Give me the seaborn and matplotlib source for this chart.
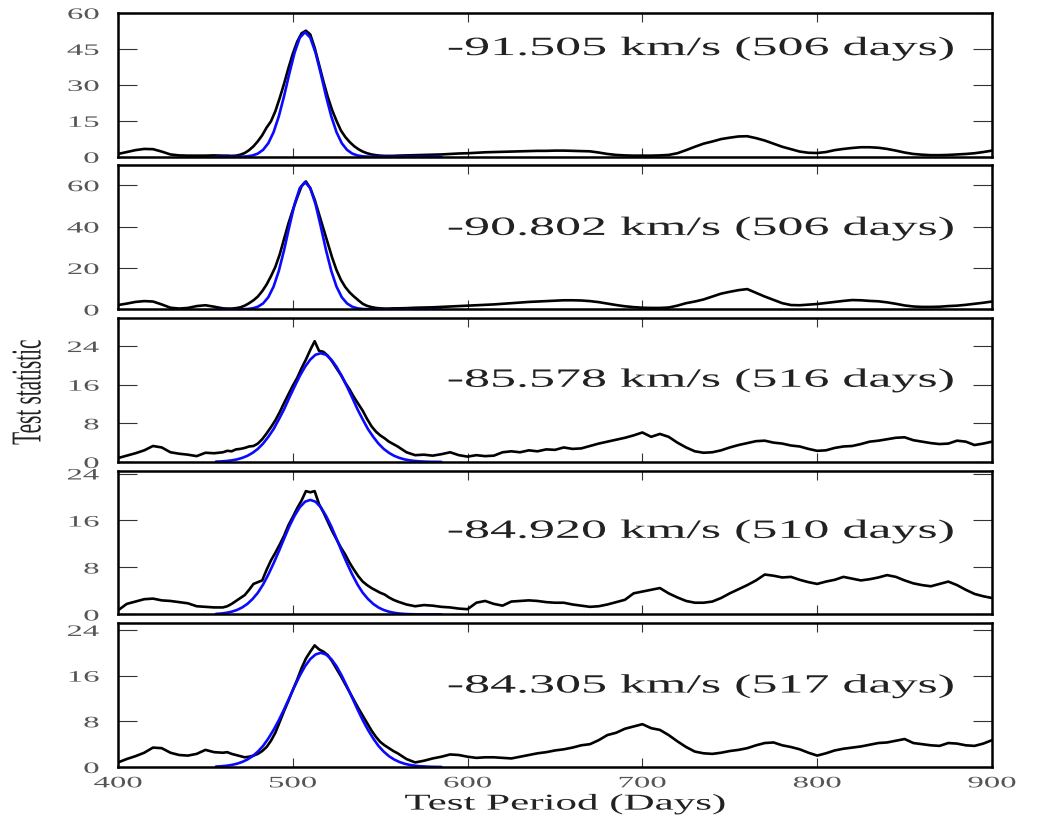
import numpy as np
import pandas as pd
import matplotlib
matplotlib.use("Agg")
import matplotlib.pyplot as plt
import matplotlib.patheffects as pe
from matplotlib.transforms import Affine2D
import seaborn as sns

# ---------------- data ----------------
# test periods (days) of the black curves: coarser away from the peak
period = np.concatenate([np.arange(400, 460, 5),
                         np.arange(460, 560, 2.5),
                         np.arange(560, 905, 5)])
fit_period = np.arange(456, 588, 3)      # test periods (days) of the blue fits

stat_91505 = [1.2, 2.0, 2.8, 3.3, 3.2, 2.2, 1.0, 0.6, 0.5, 0.5, 0.5, 0.6,
              0.5, 0.5, 0.4, 0.5, 0.9, 1.6, 2.8, 4.4, 6.5, 9.0,
              12.2, 14.8, 19.0, 24.5, 30.5, 37.0, 43.0, 48.0, 51.5, 52.6,
              51.0, 45.5, 38.5, 31.5, 25.0, 19.5, 15.0, 11.0, 8.3, 6.2,
              4.5, 3.2, 2.2, 1.5, 1.0, 0.7, 0.5, 0.4, 0.4, 0.4,
              0.5, 0.6, 0.7, 0.8, 0.9, 1.0, 1.2, 1.4,
              1.5, 1.7, 1.9, 2.0, 2.1, 2.2, 2.3, 2.4, 2.5, 2.5,
              2.6, 2.6, 2.5, 2.4, 2.3, 1.8, 1.2, 0.8, 0.6, 0.5,
              0.5, 0.5, 0.6, 0.8, 1.5, 2.8, 4.2, 5.5, 6.4, 7.4,
              8.0, 8.5, 8.6, 7.8, 6.8, 5.5, 4.2, 3.2, 2.2, 1.7,
              1.6, 2.0, 2.8, 3.3, 3.7, 4.0, 4.0, 3.8, 3.3, 2.6,
              1.8, 1.2, 0.9, 0.7, 0.7, 0.8, 1.0, 1.2, 1.5, 2.0,
              2.6]
stat_90802 = [2.1, 2.8, 3.6, 4.0, 3.8, 2.4, 0.8, 0.4, 0.7, 1.6, 2.0, 1.3,
              0.5, 0.4, 0.4, 0.6, 1.0, 1.8, 3.0, 4.4, 6.2, 8.8,
              12.0, 16.0, 20.5, 26.5, 34.0, 41.5, 48.0, 54.0, 59.5, 61.8,
              58.5, 53.0, 46.0, 39.0, 32.0, 25.0, 19.0, 14.3, 10.8, 8.2,
              6.2, 4.4, 2.7, 1.7, 1.1, 0.7, 0.5, 0.4, 0.4, 0.5,
              0.5, 0.6, 0.8, 0.9, 1.0, 1.2, 1.4, 1.6,
              1.8, 2.0, 2.2, 2.4, 2.7, 3.0, 3.3, 3.6, 3.8, 4.0,
              4.2, 4.4, 4.4, 4.3, 4.0, 3.5, 2.8, 2.1, 1.5, 1.1,
              0.8, 0.7, 0.7, 0.9, 1.8, 3.0, 3.8, 4.8, 6.2, 7.6,
              8.5, 9.3, 9.8, 8.0, 6.2, 4.6, 3.0, 2.1, 2.0, 2.3,
              2.6, 3.1, 3.6, 4.1, 4.5, 4.4, 4.1, 3.9, 3.4, 2.7,
              1.9, 1.4, 1.2, 1.2, 1.3, 1.6, 1.8, 2.2, 2.7, 3.2,
              3.8]
stat_85578 = [0.8, 1.3, 1.8, 2.4, 3.3, 3.0, 2.0, 1.7, 1.5, 1.2, 1.9, 1.8,
              2.0, 2.3, 2.2, 2.6, 2.7, 2.9, 3.2, 3.3, 3.8, 4.7,
              5.9, 7.2, 8.6, 10.3, 12.2, 14.0, 15.8, 17.4, 19.4, 21.2,
              23.2, 25.0, 23.0, 22.8, 22.0, 20.8, 19.4, 18.0, 16.4, 15.0,
              13.4, 12.0, 10.6, 8.9, 7.4, 6.3, 5.5, 4.9, 4.2, 3.7,
              3.2, 2.0, 1.4, 1.5, 1.3, 1.6, 2.0, 1.4,
              1.1, 1.4, 1.2, 1.3, 2.0, 2.2, 2.0, 2.4, 2.2, 2.6,
              2.5, 3.0, 2.7, 2.8, 3.3, 3.8, 4.2, 4.6, 5.0, 5.5,
              6.1, 5.2, 5.8, 5.2, 4.0, 3.0, 2.2, 1.9, 2.0, 2.4,
              3.0, 3.5, 3.9, 4.3, 4.4, 4.0, 3.8, 3.4, 3.2, 2.7,
              2.3, 2.4, 2.9, 3.2, 3.3, 3.7, 4.2, 4.4, 4.7, 5.0,
              5.1, 4.5, 4.2, 3.9, 3.7, 3.8, 4.4, 4.2, 3.5, 3.8,
              4.2]
stat_84920 = [0.7, 1.8, 2.2, 2.6, 2.7, 2.4, 2.3, 2.1, 1.9, 1.4, 1.3, 1.2,
              1.2, 1.4, 1.8, 2.3, 2.8, 3.3, 4.2, 5.2, 5.5, 5.8,
              7.6, 9.2, 10.5, 11.9, 13.4, 15.2, 16.6, 18.1, 19.4, 21.0,
              20.8, 21.0, 18.8, 17.4, 15.8, 14.2, 12.8, 11.4, 10.2, 8.8,
              7.6, 6.5, 5.6, 5.0, 4.5, 4.1, 3.7, 3.4, 2.9, 2.5,
              2.2, 1.7, 1.4, 1.6, 1.5, 1.3, 1.2, 1.0,
              0.9, 2.0, 2.3, 1.8, 1.5, 2.2, 2.3, 2.4, 2.3, 2.1,
              2.0, 2.0, 1.7, 1.5, 1.3, 1.4, 1.7, 2.1, 2.5, 3.6,
              3.9, 4.2, 4.5, 3.6, 2.9, 2.3, 2.0, 2.0, 2.2, 2.8,
              3.6, 4.3, 5.0, 5.8, 6.8, 6.6, 6.3, 6.4, 5.9, 5.5,
              5.2, 5.6, 5.9, 6.4, 6.1, 5.8, 6.0, 6.3, 6.7, 6.4,
              5.8, 5.3, 5.0, 4.8, 5.2, 5.6, 5.0, 4.2, 3.5, 3.1,
              2.8]
stat_84305 = [0.8, 1.4, 1.9, 2.5, 3.4, 3.3, 2.5, 2.1, 2.0, 2.3, 3.0, 2.6,
              2.5, 2.6, 2.3, 2.1, 1.9, 1.7, 1.8, 2.0, 2.3, 2.8,
              3.5, 4.6, 6.0, 7.9, 9.8, 11.6, 13.5, 15.3, 17.3, 19.0,
              20.2, 21.3, 20.6, 20.2, 19.6, 18.5, 17.2, 15.9, 14.5, 13.1,
              11.7, 10.3, 9.0, 7.7, 6.4, 5.3, 4.4, 3.8, 3.3, 2.8,
              2.4, 1.4, 0.8, 1.1, 1.5, 1.8, 2.2, 2.1,
              1.8, 1.6, 1.7, 1.7, 1.6, 1.5, 1.8, 2.1, 2.4, 2.6,
              2.9, 3.1, 3.4, 3.8, 4.0, 4.7, 5.6, 6.0, 6.7, 7.1,
              7.5, 6.8, 6.5, 5.6, 4.5, 3.5, 2.7, 2.4, 2.3, 2.5,
              2.8, 3.0, 3.3, 3.8, 4.2, 4.3, 3.8, 3.5, 3.1, 2.5,
              2.0, 2.4, 2.9, 3.2, 3.4, 3.6, 3.9, 4.2, 4.3, 4.6,
              4.9, 4.2, 4.0, 3.8, 3.7, 4.2, 4.1, 3.8, 3.7, 4.1,
              4.7]

fit_91505 = [0.0, 0.0, 0.0, 0.01, 0.03, 0.08, 0.22, 0.58, 1.36, 2.92,
             5.7, 10.3, 16.9, 25.3, 34.7, 43.4, 49.7, 52.0, 49.7, 43.4,
             34.7, 25.3, 16.9, 10.3, 5.7, 2.92, 1.36, 0.58, 0.22, 0.08,
             0.03, 0.01, 0.0, 0.0, 0.0, 0.0, 0.0, 0.0, 0.0, 0.0,
             0.0, 0.0, 0.0, 0.0]
fit_90802 = [0.0, 0.0, 0.0, 0.0, 0.02, 0.06, 0.19, 0.52, 1.28, 2.88,
             5.9, 11.0, 18.6, 28.6, 40.0, 50.8, 58.6, 61.5, 58.6, 50.8,
             40.0, 28.6, 18.6, 11.0, 5.9, 2.88, 1.28, 0.52, 0.19, 0.06,
             0.02, 0.0, 0.0, 0.0, 0.0, 0.0, 0.0, 0.0, 0.0, 0.0,
             0.0, 0.0, 0.0, 0.0]
fit_85578 = [0.06, 0.11, 0.19, 0.32, 0.52, 0.83, 1.26, 1.88, 2.7, 3.8,
             5.2, 6.8, 8.8, 10.9, 13.3, 15.6, 17.8, 19.7, 21.2, 22.2,
             22.5, 22.2, 21.2, 19.7, 17.8, 15.6, 13.3, 10.9, 8.8, 6.8,
             5.2, 3.8, 2.7, 1.88, 1.26, 0.83, 0.52, 0.32, 0.19, 0.11,
             0.06, 0.03, 0.02, 0.01]
fit_84920 = [0.09, 0.16, 0.28, 0.47, 0.76, 1.19, 1.8, 2.64, 3.7, 5.1,
             6.8, 8.7, 10.75, 12.9, 15.0, 16.8, 18.25, 19.2, 19.5, 19.2,
             18.25, 16.8, 15.0, 12.9, 10.75, 8.7, 6.8, 5.1, 3.7, 2.64,
             1.8, 1.19, 0.76, 0.47, 0.28, 0.16, 0.09, 0.05, 0.03, 0.01,
             0.0, 0.0, 0.0, 0.0]
fit_84305 = [0.08, 0.13, 0.22, 0.36, 0.57, 0.88, 1.31, 1.9, 2.7, 3.7,
             5.0, 6.5, 8.2, 10.1, 12.1, 14.1, 16.0, 17.65, 18.9, 19.7,
             20.0, 19.7, 18.9, 17.65, 16.0, 14.1, 12.1, 10.1, 8.2, 6.5,
             5.0, 3.7, 2.7, 1.9, 1.31, 0.88, 0.57, 0.36, 0.22, 0.13,
             0.08, 0.04, 0.02, 0.01]

panel_labels = ["-91.505 km/s (506 days)", "-90.802 km/s (506 days)",
                "-85.578 km/s (516 days)", "-84.920 km/s (510 days)",
                "-84.305 km/s (517 days)"]
stats = [stat_91505, stat_90802, stat_85578, stat_84920, stat_84305]
fits = [fit_91505, fit_90802, fit_85578, fit_84920, fit_84305]
y_max = [60, 69.5, 29.8, 24.5, 25.2]
y_ticks = [[0, 15, 30, 45, 60], [0, 20, 40, 60], [0, 8, 16, 24],
           [0, 8, 16, 24], [0, 8, 16, 24]]
x_ticks = [400, 500, 600, 700, 800, 900]
label_y = [0.75, 0.56, 0.565, 0.575, 0.56]


# horizontally stretched glyphs (the reference image is stretched sideways)
class HStretch(pe.AbstractPathEffect):
    def __init__(self, sx=2.0, anchor="center"):
        super().__init__()
        self._sx = sx
        self._anchor = anchor

    def draw_path(self, renderer, gc, tpath, affine, rgbFace=None):
        ext = tpath.get_extents(affine)
        if self._anchor == "left":
            cx = ext.x0
        elif self._anchor == "right":
            cx = ext.x1
        else:
            cx = 0.5 * (ext.x0 + ext.x1)
        new = affine + Affine2D().translate(-cx, 0).scale(self._sx, 1).translate(cx, 0)
        renderer.draw_path(gc, tpath, new, rgbFace)


sns.set_theme(style="ticks")
plt.rcParams["font.family"] = ["Liberation Serif", "DejaVu Serif"]

fig, axes = plt.subplots(5, 1, figsize=(10.37, 8.2), dpi=100, sharex=True)
fig.subplots_adjust(left=0.1138, right=0.9566, top=0.983, bottom=0.0634, hspace=0.06)

for i, ax in enumerate(axes):
    df = pd.DataFrame({"period": period, "stat": stats[i]})
    dfit = pd.DataFrame({"period": fit_period, "fit": fits[i]})
    sns.lineplot(data=df, x="period", y="stat", ax=ax, color="black",
                 linewidth=1.9, estimator=None)
    sns.lineplot(data=dfit, x="period", y="fit", ax=ax, color="#0a0aff",
                 linewidth=1.9, estimator=None)
    ax.set_xlim(400, 900)
    ax.set_ylim(0, y_max[i])
    ax.set_yticks(y_ticks[i])
    ax.set_xticks(x_ticks)
    ax.set_xlabel("")
    ax.set_ylabel("")
    for s in ax.spines.values():
        s.set_visible(True)
        s.set_linewidth(1.8)
        s.set_color("black")
    ax.tick_params(axis="y", direction="in", left=True, right=True, length=13.7,
                   width=0.8, color="#333333", labelsize=11.5, labelcolor="#555555",
                   pad=13.7)
    ax.tick_params(axis="x", direction="in", top=True, bottom=True, length=6.5,
                   width=0.8, color="#333333", labelsize=11.5, labelcolor="#555555",
                   pad=6)
    for t in ax.get_yticklabels():
        t.set_path_effects([HStretch(2.05, "right")])
    for t in ax.get_xticklabels():
        t.set_path_effects([HStretch(2.05, "center")])
    ax.text(0.667, label_y[i], panel_labels[i], transform=ax.transAxes,
            ha="center", va="center", fontsize=19, color="#222222",
            path_effects=[HStretch(1.97, "center")])
    if i < 4:
        ax.tick_params(axis="x", labelbottom=False)

fig.text(565 / 1037, 1 - 805 / 820, "Test Period (Days)", ha="center", va="center",
         fontsize=16.3, color="#222222", path_effects=[HStretch(1.9, "center")])
fig.text(29 / 1037, 1 - 393 / 820, "Test statistic", rotation=90, ha="center",
         va="center", fontsize=15.3, color="#222222",
         path_effects=[HStretch(2.0, "center")])

fig.savefig("out.png", dpi=100)
